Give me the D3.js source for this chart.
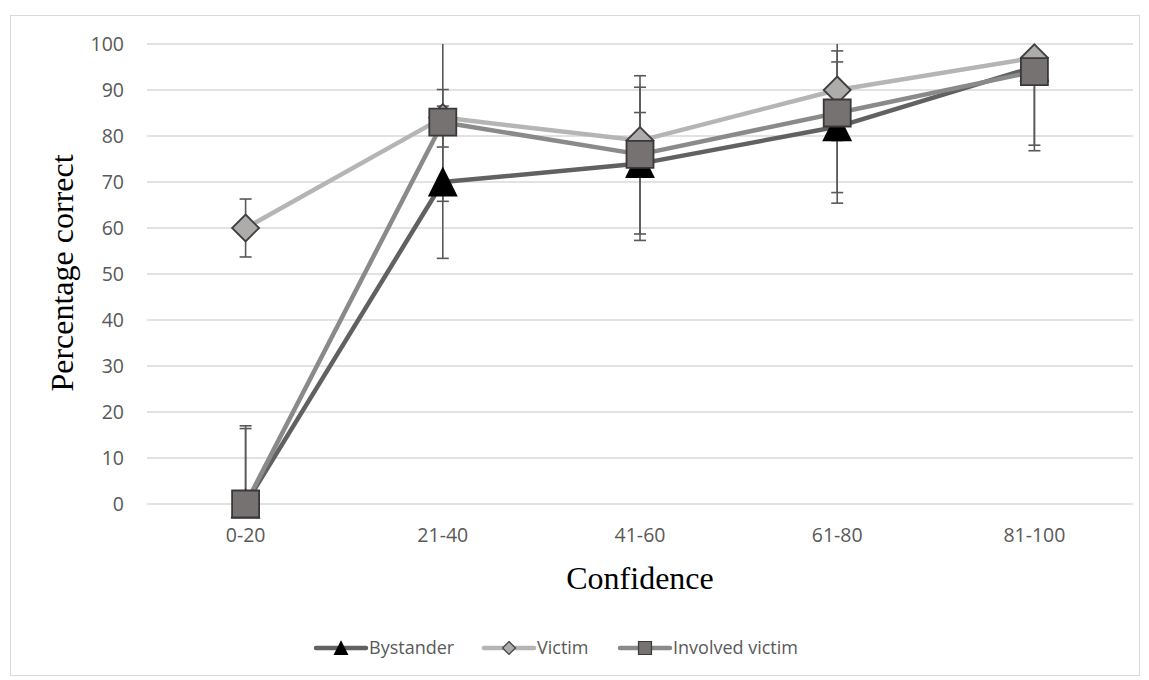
<!DOCTYPE html>
<html>
<head>
<meta charset="utf-8">
<script src="https://cdn.jsdelivr.net/npm/d3@7"></script>
<style>
  body { margin: 0; background: #fff; }
  svg { display: block; }
</style>
</head>
<body>
<div id="chart"></div>
<script>
// Data
const categories = ['0-20', '21-40', '41-60', '61-80', '81-100'];
const yTicks = [0, 10, 20, 30, 40, 50, 60, 70, 80, 90, 100];

const bystander = [0, 70, 74, 82, 95];
const bystanderLow = [0, 53.4, 57.3, 65.4, 78];
const bystanderHigh = [17, 86.5, 90.6, 98.5, 100];

const victim = [60, 84, 79, 90, 97];
const victimLow = [53.7, 77.6, 72.9, 67.7, 93];
const victimHigh = [66.3, 90.1, 85.1, 100, 100];

const involved = [0, 83, 76, 85, 94];
const involvedLow = [0, 65.8, 58.7, 79, 76.8];
const involvedHigh = [16.4, 100, 93.1, 96.1, 100];

const series = [
  { name: 'Bystander', values: bystander, low: bystanderLow, high: bystanderHigh,
    line: '#616161', marker: 'triangle', fill: '#000', stroke: '#000' },
  { name: 'Victim', values: victim, low: victimLow, high: victimHigh,
    line: '#b5b5b5', marker: 'diamond', fill: '#aeabab', stroke: '#3f3f3f' },
  { name: 'Involved victim', values: involved, low: involvedLow, high: involvedHigh,
    line: '#8a8a8a', marker: 'square', fill: '#777272', stroke: '#3a3838' }
];

const W = 1149, H = 680;
const plot = { left: 147, right: 1133, top: 44, bottom: 504 };
const sans = '"Open Sans", "Noto Sans", sans-serif';
const serif = '"Liberation Serif", "Times New Roman", serif';

const svg = d3.select('#chart').append('svg')
  .attr('width', W).attr('height', H);

svg.append('rect')
  .attr('x', 10.5).attr('y', 15.5)
  .attr('width', 1129).attr('height', 660)
  .attr('fill', '#fff').attr('stroke', '#d9d9d9').attr('stroke-width', 1);

const x = d3.scaleBand().domain(categories).range([plot.left, plot.right]);
const cx = c => x(c) + x.bandwidth() / 2;
const y = d3.scaleLinear().domain([0, 100]).range([plot.bottom, plot.top]);

// gridlines
svg.append('g')
  .selectAll('line').data(yTicks).enter().append('line')
  .attr('x1', plot.left).attr('x2', plot.right)
  .attr('y1', d => y(d)).attr('y2', d => y(d))
  .attr('stroke', '#d9d9d9').attr('stroke-width', 1.3);

// y axis labels
const yAxis = svg.append('g')
  .attr('transform', `translate(${plot.left},0)`)
  .call(d3.axisLeft(y).tickValues(yTicks).tickSize(0).tickPadding(23));
yAxis.select('.domain').remove();
yAxis.selectAll('text')
  .attr('font-family', sans)
  .attr('font-size', 19.5).attr('fill', '#595959');

// x axis labels
const xAxis = svg.append('g')
  .attr('transform', `translate(0,${plot.bottom})`)
  .call(d3.axisBottom(x).tickSize(0).tickPadding(24));
xAxis.select('.domain').remove();
xAxis.selectAll('text')
  .attr('font-family', sans)
  .attr('font-size', 19.5).attr('fill', '#595959');

// axis titles
svg.append('text')
  .attr('transform', 'translate(73,273) rotate(-90)')
  .attr('text-anchor', 'middle')
  .attr('font-family', serif)
  .attr('font-size', 32).attr('fill', '#000')
  .text('Percentage correct');

svg.append('text')
  .attr('x', 640).attr('y', 589)
  .attr('text-anchor', 'middle')
  .attr('font-family', serif)
  .attr('font-size', 32).attr('fill', '#000')
  .text('Confidence');

// lines
const line = d3.line().x((d, i) => cx(categories[i])).y(d => y(d));
series.forEach(s => {
  svg.append('path')
    .datum(s.values)
    .attr('d', line)
    .attr('fill', 'none')
    .attr('stroke', s.line)
    .attr('stroke-width', 4.5)
    .attr('stroke-linejoin', 'round');
});

// error bars
const capW = 6;
series.forEach(s => {
  const g = svg.append('g').attr('stroke', '#595959').attr('stroke-width', 1.6);
  categories.forEach((c, i) => {
    const lo = s.low[i], hi = s.high[i];
    g.append('line')
      .attr('x1', cx(c)).attr('x2', cx(c))
      .attr('y1', y(lo)).attr('y2', y(hi));
    [lo, hi].forEach(v => {
      if (v > 0 && v < 100) {
        g.append('line')
          .attr('x1', cx(c) - capW).attr('x2', cx(c) + capW)
          .attr('y1', y(v)).attr('y2', y(v));
      }
    });
  });
});

// markers
function markerPath(type, size) {
  const h = size / 2;
  if (type === 'triangle') return `M0,${-h}L${h},${h}L${-h},${h}Z`;
  if (type === 'diamond') return `M0,${-h}L${h},0L0,${h}L${-h},0Z`;
  return `M${-h},${-h}H${h}V${h}H${-h}Z`;
}
series.forEach(s => {
  svg.append('g').selectAll('path')
    .data(s.values).enter().append('path')
    .attr('transform', (d, i) => `translate(${cx(categories[i])},${y(d)})`)
    .attr('d', markerPath(s.marker, 27))
    .attr('fill', s.fill)
    .attr('stroke', s.stroke)
    .attr('stroke-width', 1.8);
});

// legend
const legendItems = [
  { s: series[0], x: 316 },
  { s: series[1], x: 484 },
  { s: series[2], x: 620 }
];
legendItems.forEach(({ s, x: lx }) => {
  const g = svg.append('g').attr('transform', `translate(${lx},648)`);
  g.append('line')
    .attr('x1', 0).attr('x2', 50).attr('y1', 0).attr('y2', 0)
    .attr('stroke', s.line).attr('stroke-width', 4.5)
    .attr('stroke-linecap', 'round');
  g.append('path')
    .attr('transform', 'translate(25,0)')
    .attr('d', markerPath(s.marker, 13))
    .attr('fill', s.fill).attr('stroke', s.stroke).attr('stroke-width', 1.2);
  g.append('text')
    .attr('x', 53).attr('y', 0).attr('dy', '0.35em')
    .attr('font-family', sans)
    .attr('font-size', 18).attr('fill', '#595959')
    .text(s.name);
});
</script>
</body>
</html>
